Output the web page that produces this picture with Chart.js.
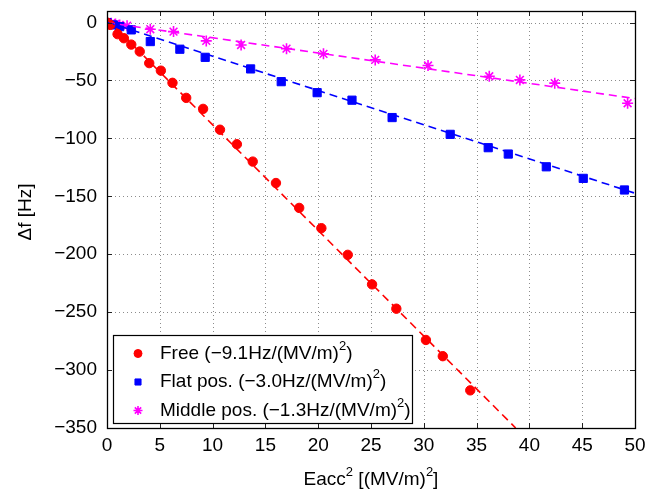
<!DOCTYPE html>
<html>
<head>
<meta charset="utf-8">
<script src="https://cdn.jsdelivr.net/npm/chart.js@4.4.1/dist/chart.umd.min.js"></script>
<style>
html,body{margin:0;padding:0;background:#fff;}
#wrap{position:relative;width:649px;height:497px;}
</style>
</head>
<body>
<div id="wrap"><canvas id="c" width="649" height="497"></canvas></div>
<script>
// ---- data ----
const xTicks = [0, 5, 10, 15, 20, 25, 30, 35, 40, 45, 50];
const yTicks = [-350, -300, -250, -200, -150, -100, -50, 0];

const freeX = [0, 0.3, 1.0, 1.6, 2.3, 3.1, 4.0, 5.1, 6.2, 7.5, 9.1, 10.7, 12.3, 13.8, 16.0, 18.2, 20.3, 22.8, 25.1, 27.4, 30.2, 31.8, 34.4];
const freeY = [0, -2, -10, -13.5, -19, -25, -35, -41.5, -52, -65, -74.5, -92.5, -105, -120, -138.5, -160, -177.5, -200.5, -226, -247, -274, -288, -317.5];

const flatX = [0, 0.6, 1.2, 2.3, 4.1, 6.9, 9.3, 13.6, 16.5, 19.9, 23.2, 27.0, 32.5, 36.1, 38.0, 41.6, 45.1, 49.0];
const flatY = [0, -2, -3.5, -6.3, -16.4, -23, -30, -40, -51, -60.5, -67, -82, -96.5, -108, -113.5, -124.5, -134.5, -144.5];

const midX = [0, 0.4, 0.8, 1.2, 1.9, 4.1, 6.3, 9.4, 12.7, 17.0, 20.5, 25.4, 30.4, 36.2, 39.1, 42.4, 49.3];
const midY = [0, -0.5, -1.2, -2, -2.8, -5.7, -7.8, -15.8, -19.3, -22.5, -27, -32.2, -37.1, -46.3, -49.5, -52.3, -69.6];

const freeFitX = [0, 38.7];
const freeFitY = [3, -350];
const flatFitX = [0, 50];
const flatFitY = [0.5, -147.3];
const midFitX = [0, 50];
const midFitY = [0, -65.6];

const legendLabels = [
  [["Free (\u22129.1Hz/(MV/m)", false], ["2", true], [")", false]],
  [["Flat pos. (\u22123.0Hz/(MV/m)", false], ["2", true], [")", false]],
  [["Middle pos. (\u22121.3Hz/(MV/m)", false], ["2", true], [")", false]]
];
const xTitle = [["Eacc", false], ["2", true], [" [(MV/m)", false], ["2", true], ["]", false]];
const yTitle = "\u0394f [Hz]";

const RED = '#ff0000', BLUE = '#0000ff', MAG = '#ff00ff';
const FONT = "'Liberation Sans', Arial, sans-serif";
const FS = 19;

function pts(xs, ys){ return xs.map((x,i)=>({x:x, y:ys[i]})); }

function drawRich(ctx, parts, x, y, size, align){
  const supSize = Math.round(size*0.68);
  let total = 0;
  parts.forEach(p=>{ ctx.font = (p[1]?supSize:size)+'px '+FONT; total += ctx.measureText(p[0]).width; });
  let cx = align==='center' ? x - total/2 : x;
  ctx.textAlign = 'left';
  ctx.textBaseline = 'middle';
  parts.forEach(p=>{
    ctx.font = (p[1]?supSize:size)+'px '+FONT;
    ctx.fillText(p[0], cx, p[1] ? y - size*0.38 : y);
    cx += ctx.measureText(p[0]).width;
  });
}

const deco = {
  id: 'deco',
  beforeDatasetsDraw(chart){
    const {ctx, chartArea:a, scales:{x, y}} = chart;
    ctx.save();
    ctx.strokeStyle = 'rgba(0,0,0,0.45)';
    ctx.lineWidth = 1;
    ctx.setLineDash([1,3]);
    xTicks.forEach(v=>{
      const px = Math.round(x.getPixelForValue(v))+0.5;
      ctx.beginPath(); ctx.moveTo(px, a.top); ctx.lineTo(px, a.bottom); ctx.stroke();
    });
    yTicks.forEach(v=>{
      const py = Math.round(y.getPixelForValue(v))+0.5;
      ctx.beginPath(); ctx.moveTo(a.left, py); ctx.lineTo(a.right, py); ctx.stroke();
    });
    ctx.restore();
  },
  afterDatasetsDraw(chart){
    const {ctx, chartArea:a, scales:{x, y}} = chart;
    ctx.save();
    ctx.strokeStyle = '#222';
    ctx.lineWidth = 1;
    const tl = 5;
    xTicks.forEach(v=>{
      const px = Math.round(x.getPixelForValue(v))+0.5;
      ctx.beginPath();
      ctx.moveTo(px, a.bottom); ctx.lineTo(px, a.bottom - tl);
      ctx.moveTo(px, a.top); ctx.lineTo(px, a.top + tl);
      ctx.stroke();
    });
    yTicks.forEach(v=>{
      const py = Math.round(y.getPixelForValue(v))+0.5;
      ctx.beginPath();
      ctx.moveTo(a.left, py); ctx.lineTo(a.left + tl, py);
      ctx.moveTo(a.right, py); ctx.lineTo(a.right - tl, py);
      ctx.stroke();
    });
    ctx.strokeStyle = '#000';
    ctx.lineWidth = 1.3;
    ctx.strokeRect(a.left+0.5, a.top+0.5, a.right-a.left, a.bottom-a.top);

    // legend
    const lx = a.left + 6, ly = a.bottom - 93, lw = 299, lh = 88;
    ctx.fillStyle = '#fff';
    ctx.fillRect(lx, ly, lw, lh);
    ctx.strokeStyle = '#000';
    ctx.lineWidth = 1.2;
    ctx.strokeRect(lx+0.5, ly+0.5, lw, lh);
    const ds = chart.data.datasets;
    const rows = [ly+18.5, ly+47, ly+75.5];
    [0,1,2].forEach(i=>{
      const d = ds[i];
      ctx.fillStyle = d.backgroundColor;
      ctx.strokeStyle = d.borderColor;
      ctx.lineWidth = d.pointBorderWidth || 1;
      Chart.helpers.drawPoint(ctx, {pointStyle: d.pointStyle, radius: i===0?4:(i===1?4.3:4.5), rotation:0, borderWidth: ctx.lineWidth}, lx+25, rows[i]);
      ctx.fillStyle = '#000';
      drawRich(ctx, legendLabels[i], lx+47, rows[i], FS, 'left');
    });

    ctx.fillStyle = '#000';
    drawRich(ctx, xTitle, (a.left+a.right)/2, 480, FS, 'center');
    ctx.translate(26, 212);
    ctx.rotate(-Math.PI/2);
    ctx.font = FS+'px '+FONT;
    ctx.textAlign = 'center';
    ctx.textBaseline = 'middle';
    ctx.fillText(yTitle, 0, 0);
    ctx.restore();
  }
};

Chart.defaults.font.family = FONT;
Chart.defaults.font.size = FS;
Chart.defaults.color = '#000';

const fmt = v => v < 0 ? '\u2212' + Math.abs(v) : String(v);

new Chart(document.getElementById('c'), {
  type: 'scatter',
  data: {
    datasets: [
      { label: 'Free', data: pts(freeX, freeY), pointStyle: 'circle', pointRadius: 4.7, backgroundColor: RED, borderColor: RED, pointBorderWidth: 1, showLine: false, order: 2 },
      { label: 'Flat pos.', data: pts(flatX, flatY), pointStyle: 'rect', pointRadius: 5.8, backgroundColor: BLUE, borderColor: BLUE, pointBorderWidth: 1, showLine: false, order: 2 },
      { label: 'Middle pos.', data: pts(midX, midY), pointStyle: 'star', pointRadius: 5.5, backgroundColor: MAG, borderColor: MAG, pointBorderWidth: 1.6, showLine: false, order: 2 },
      { label: 'fitFree', data: pts(freeFitX, freeFitY), showLine: true, pointRadius: 0, borderColor: RED, borderWidth: 1.6, borderDash: [8,5], fill: false, order: 1 },
      { label: 'fitFlat', data: pts(flatFitX, flatFitY), showLine: true, pointRadius: 0, borderColor: BLUE, borderWidth: 1.6, borderDash: [8,5], fill: false, order: 1 },
      { label: 'fitMid', data: pts(midFitX, midFitY), showLine: true, pointRadius: 0, borderColor: MAG, borderWidth: 1.6, borderDash: [8,5], fill: false, order: 1 }
    ]
  },
  options: {
    responsive: false,
    animation: false,
    events: [],
    layout: { padding: { top: 11, right: 14, left: 0, bottom: 0 } },
    plugins: { legend: { display: false }, tooltip: { enabled: false }, title: { display: false } },
    scales: {
      x: {
        type: 'linear', min: 0, max: 50,
        grid: { display: false, drawTicks: false },
        border: { display: false },
        afterBuildTicks: s => { s.ticks = xTicks.map(v => ({ value: v })); },
        afterFit: s => { s.height = 69; s.paddingLeft = 0; s.paddingRight = 0; },
        ticks: { padding: 6, maxRotation: 0, autoSkip: false, callback: fmt }
      },
      y: {
        type: 'linear', min: -350, max: 10,
        grid: { display: false, drawTicks: false },
        border: { display: false },
        afterBuildTicks: s => { s.ticks = yTicks.map(v => ({ value: v })); },
        afterFit: s => { s.width = 107; s.paddingTop = 0; s.paddingBottom = 0; },
        ticks: { padding: 10, autoSkip: false, callback: fmt }
      }
    }
  },
  plugins: [deco]
});
</script>
</body>
</html>
